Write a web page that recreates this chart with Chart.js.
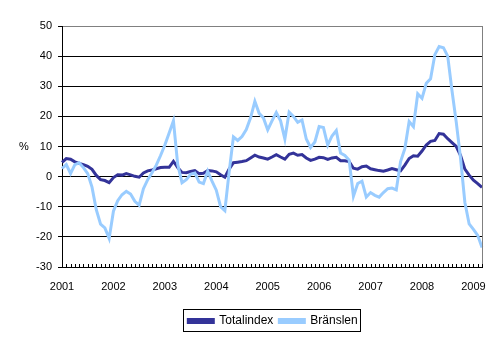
<!DOCTYPE html>
<html>
<head>
<meta charset="utf-8">
<script src="https://cdn.jsdelivr.net/npm/chart.js@4/dist/chart.umd.min.js"></script>
<style>
    html, body { margin: 0; padding: 0; background: #fff; }
    #wrap { width: 497px; height: 340px; position: relative; }
</style>
</head>
<body>
<div id="wrap"><canvas id="priceChart" width="497" height="340"></canvas></div>
<script>
// Månadsdata jan 2001 - mars 2009, förändring i % från året innan
const years = ['2001', '2002', '2003', '2004', '2005', '2006', '2007', '2008', '2009'];
const lastMonth = 3; // data slutar i mars 2009

const totalindex = [
    4.7, 6.0, 5.8, 4.9, 4.4, 4.0, 3.4, 2.4, 0.4, -1.0, -1.3, -2.0,
    -0.3, 0.6, 0.5, 1.0, 0.6, 0.1, -0.2, 1.2, 1.9, 2.2, 2.6, 3.0,
    3.1, 3.1, 5.1, 3.0, 1.4, 1.3, 1.7, 2.0, 1.0, 1.1, 2.0, 1.9,
    1.6, 0.6, -0.2, 2.5, 4.6, 4.8, 5.0, 5.3, 6.2, 7.1, 6.5, 6.2,
    5.8, 6.5, 7.3, 6.5, 5.8, 7.4, 7.8, 7.1, 7.3, 6.2, 5.4, 5.8,
    6.4, 6.3, 5.7, 6.2, 6.4, 5.3, 5.3, 5.0, 2.8, 2.5, 3.3, 3.5,
    2.6, 2.3, 2.0, 1.8, 2.2, 2.7, 2.3, 1.9, 3.8, 6.0, 6.9, 6.8,
    8.5, 10.5, 11.7, 12.0, 14.3, 14.1, 12.6, 11.3, 10.0, 7.0, 2.5, 0.5,
    -1.2, -2.3, -3.6
];

const branslen = [
    2.7, 4.0, 1.0, 4.0, 4.6, 3.0, 1.0, -3.5, -11.0, -15.8, -17.0, -20.5,
    -11.5, -8.0, -6.0, -4.9, -5.8, -8.2, -9.5, -4.0, -1.0, 1.3, 3.8, 7.0,
    10.5, 14.5, 18.5, 4.0, -2.0, -1.0, 0.8, 1.2, -1.8, -2.3, 1.8, -1.5,
    -4.5, -10.0, -11.3, 1.6, 13.2, 12.0, 13.3, 15.6, 19.5, 25.0, 21.0, 19.5,
    15.5, 18.5, 21.3, 18.5, 12.5, 21.4, 20.0, 18.0, 18.8, 12.5, 9.7, 11.5,
    16.6, 16.3, 10.5, 13.5, 15.3, 7.8, 7.0, 5.5, -6.5, -2.3, -1.5, -6.8,
    -5.3, -6.2, -6.8, -5.3, -4.0, -3.8, -4.4, 5.0, 9.3, 18.3, 16.6, 27.5,
    26.0, 31.0, 32.5, 40.5, 43.2, 42.8, 40.0, 28.5, 18.0, 6.0, -8.5, -15.7,
    -17.5, -19.5, -23.5
];

const yTicks = [-30, -20, -10, 0, 10, 20, 30, 40, 50];

// en etikett per månad, årtal bara i januari
const months = [];
years.forEach((y, i) => {
    const n = (i === years.length - 1) ? lastMonth : 12;
    for (let m = 0; m < n; m++) months.push(m === 0 ? y : '');
});

const FONT = '"Liberation Sans", Arial, sans-serif';
const LEGEND_SHIFT = 32; // legenden sitter lite till höger om mitten

// Ram runt legenden, grå kant höger, små månadsstreck och %-tecknet
const extrasPlugin = {
    id: 'extras',
    afterLayout(chart) {
        // flytta legendens box innan hitboxarna räknas om
        const lg = chart.legend;
        if (lg) {
            lg.left += LEGEND_SHIFT;
            lg.right += LEGEND_SHIFT;
        }
    },
    afterDraw(chart) {
        const ctx = chart.ctx;
        const area = chart.chartArea;
        const x = chart.scales.x;
        const y = chart.scales.y;

        ctx.save();
        // grå ram höger
        ctx.strokeStyle = '#808080';
        ctx.lineWidth = 1;
        ctx.beginPath();
        ctx.moveTo(Math.round(area.right) + 0.5, area.top);
        ctx.lineTo(Math.round(area.right) + 0.5, area.bottom);
        ctx.stroke();

        // månadsstreck på x-axeln
        ctx.strokeStyle = '#000';
        ctx.beginPath();
        for (let i = 0; i < months.length; i++) {
            const px = Math.round(x.getPixelForTick(i)) + 0.5;
            ctx.moveTo(px, area.bottom);
            ctx.lineTo(px, area.bottom - 3);
        }
        ctx.stroke();

        // %-tecken vid 10
        ctx.fillStyle = '#000';
        ctx.font = '11px ' + FONT;
        ctx.textAlign = 'center';
        ctx.textBaseline = 'middle';
        ctx.fillText('%', 24, y.getPixelForValue(10));

        // legendram
        const lg = chart.legend;
        if (lg && lg.legendHitBoxes && lg.legendHitBoxes.length) {
            let l = Infinity, r = -Infinity, t = Infinity, b = -Infinity;
            lg.legendHitBoxes.forEach(h => {
                l = Math.min(l, h.left); r = Math.max(r, h.left + h.width);
                t = Math.min(t, h.top); b = Math.max(b, h.top + h.height);
            });
            ctx.strokeStyle = '#000';
            ctx.strokeRect(Math.round(l) - 4.5, Math.round(t) - 5.5, Math.round(r - l) + 8, Math.round(b - t) + 10);
        }
        ctx.restore();
    }
};

const chart = new Chart(document.getElementById('priceChart').getContext('2d'), {
    type: 'line',
    data: {
        labels: months,
        datasets: [{
            label: 'Totalindex',
            data: totalindex,
            borderColor: '#333399',
            backgroundColor: '#333399',
            borderWidth: 3,
            pointRadius: 0,
            tension: 0,
            order: 2
        }, {
            label: 'Bränslen',
            data: branslen,
            borderColor: '#99CCFF',
            backgroundColor: '#99CCFF',
            borderWidth: 3,
            pointRadius: 0,
            tension: 0,
            order: 1
        }]
    },
    options: {
        responsive: false,
        animation: false,
        devicePixelRatio: 1,
        layout: {
            padding: { top: 26, right: 15, bottom: 3, left: 0 }
        },
        plugins: {
            tooltip: { enabled: false },
            legend: {
                position: 'bottom',
                labels: {
                    boxWidth: 25,
                    boxHeight: 3,
                    padding: 6,
                    color: '#000',
                    font: { family: FONT, size: 12 },
                    sort: (a, b) => a.datasetIndex - b.datasetIndex
                }
            }
        },
        scales: {
            x: {
                type: 'category',
                offset: false,
                border: { display: true, color: '#000', width: 1 },
                grid: { display: false },
                ticks: {
                    autoSkip: false,
                    maxRotation: 0,
                    padding: 5,
                    color: '#000',
                    font: { family: FONT, size: 11 }
                },
                afterFit: scale => { scale.height = 42; }
            },
            y: {
                min: -30,
                max: 50,
                afterBuildTicks: scale => {
                    scale.ticks = yTicks.map(v => ({ value: v }));
                },
                border: { display: true, color: '#000', width: 1 },
                grid: {
                    color: ctx => (ctx.tick && ctx.tick.value === 50) ? '#808080' : '#000',
                    lineWidth: 1,
                    drawTicks: true,
                    tickLength: 4,
                    tickColor: '#000'
                },
                ticks: {
                    padding: 6,
                    color: '#000',
                    font: { family: FONT, size: 11 }
                },
                afterFit: scale => { scale.width = 62; }
            }
        }
    },
    plugins: [extrasPlugin]
});
</script>
</body>
</html>
